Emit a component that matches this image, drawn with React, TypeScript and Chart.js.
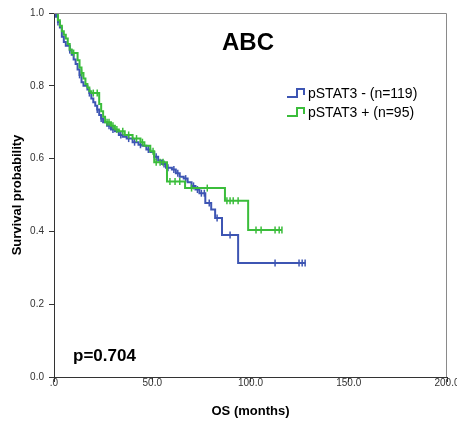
import React, { useEffect, useRef } from "react";
import { Chart, registerables } from "chart.js";
Chart.register(...registerables);

// ---- Data ----
const chartTitle = "ABC";
const pValueText = "p=0.704";
const seriesLabels = ["pSTAT3 - (n=119)", "pSTAT3 + (n=95)"];
const seriesColors = ["#3d55b3", "#3bbd3b"];

// pSTAT3 - : event times (months) and survival after each event
const negTimes = [0, 1, 2, 3, 4, 5, 6, 8, 9, 10, 11, 12, 13, 14, 15, 17, 18, 19, 20, 21, 22, 23, 24, 25, 27, 29, 31, 33, 35, 37, 40, 43, 45, 47, 49, 51, 53, 55, 57, 60, 62, 64, 66, 68, 70, 72, 74, 77, 80, 82, 85.5, 93.7, 128];
const negSurv = [1.0, 0.99, 0.975, 0.96, 0.935, 0.92, 0.91, 0.898, 0.885, 0.872, 0.86, 0.845, 0.83, 0.81, 0.8, 0.79, 0.78, 0.765, 0.755, 0.745, 0.735, 0.72, 0.71, 0.7, 0.69, 0.68, 0.675, 0.665, 0.66, 0.655, 0.645, 0.638, 0.635, 0.625, 0.618, 0.605, 0.595, 0.585, 0.575, 0.57, 0.56, 0.55, 0.545, 0.535, 0.525, 0.515, 0.505, 0.478, 0.46, 0.437, 0.39, 0.313, 0.313];
const negCensor = [2, 8, 13, 18, 22, 24, 28, 30, 34, 38, 41, 44, 48, 52, 56, 58, 61, 63, 67, 71, 73, 75, 76.5, 79, 83, 89.6, 112.5, 124.7, 126.3, 127.8];

// pSTAT3 + : event times (months) and survival after each event
const posTimes = [0, 2, 3, 4, 5, 6, 7, 8, 9, 12, 13, 14, 15, 16, 17, 18, 19, 23, 24, 25, 26, 29, 31, 33, 36, 40, 44, 46, 49, 51, 57.5, 66.7, 87, 98.8, 116];
const posSurv = [1.0, 0.98, 0.965, 0.95, 0.94, 0.93, 0.915, 0.9, 0.89, 0.87, 0.85, 0.835, 0.82, 0.805, 0.795, 0.785, 0.78, 0.75, 0.73, 0.715, 0.7, 0.69, 0.68, 0.675, 0.665, 0.655, 0.645, 0.635, 0.62, 0.59, 0.537, 0.519, 0.484, 0.404, 0.404];
const posCensor = [10, 14, 20, 22, 27, 28, 30, 32, 35, 38, 42, 45, 50.4, 52, 54, 55.5, 59, 61.6, 64, 70, 78, 88, 89.6, 91.2, 93.7, 102.8, 105.4, 112.5, 114.6, 116];

const xTickValues = [0, 50, 100, 150, 200];
const xTickLabels = [".0", "50.0", "100.0", "150.0", "200.0"];
const yTickValues = [0, 0.2, 0.4, 0.6, 0.8, 1.0];
const yTickLabels = ["0.0", "0.2", "0.4", "0.6", "0.8", "1.0"];
const xTitle = "OS (months)";
const yTitle = "Survival probability";

const FONT = '"Liberation Sans", Arial, Helvetica, sans-serif';

function survAt(times: number[], surv: number[], t: number) {
  let s = surv[0];
  for (let i = 0; i < times.length; i++) if (times[i] <= t) s = surv[i];
  return s;
}

const overlayPlugin = {
  id: "overlay",
  afterDraw(chart: any) {
    const { ctx, chartArea: a } = chart;
    ctx.save();
    // frame (top and right)
    ctx.strokeStyle = "#8a8a8a";
    ctx.lineWidth = 1;
    ctx.beginPath();
    ctx.moveTo(a.left, a.top + 0.5);
    ctx.lineTo(a.right - 0.5, a.top + 0.5);
    ctx.lineTo(a.right - 0.5, a.bottom);
    ctx.stroke();

    // title inside plot
    ctx.fillStyle = "#000";
    ctx.font = `bold 24px ${FONT}`;
    ctx.textAlign = "center";
    ctx.textBaseline = "middle";
    ctx.fillText(chartTitle, 248, 43);

    // p-value
    ctx.font = `bold 17px ${FONT}`;
    ctx.textAlign = "left";
    ctx.textBaseline = "alphabetic";
    ctx.fillText(pValueText, 73, 361);

    // legend
    const rows = [93, 112];
    seriesLabels.forEach((label, i) => {
      const cy = rows[i];
      const x0 = 287;
      ctx.strokeStyle = seriesColors[i];
      ctx.lineWidth = 2;
      ctx.beginPath();
      ctx.moveTo(x0, cy + 4);
      ctx.lineTo(x0 + 10, cy + 4);
      ctx.lineTo(x0 + 10, cy - 4);
      ctx.lineTo(x0 + 17, cy - 4);
      ctx.lineTo(x0 + 17, cy + 2);
      ctx.stroke();
      ctx.fillStyle = "#000";
      ctx.font = `14px ${FONT}`;
      ctx.textAlign = "left";
      ctx.textBaseline = "middle";
      ctx.fillText(label, x0 + 21, cy + 1);
    });
    ctx.restore();
  },
};

export default function App() {
  const ref = useRef<HTMLCanvasElement | null>(null);
  useEffect(() => {
    if (!ref.current) return;
    const lineData = (t: number[], s: number[]) => t.map((x, i) => ({ x, y: s[i] }));
    const censorData = (c: number[], t: number[], s: number[]) => c.map((x) => ({ x, y: survAt(t, s, x) }));
    const chart = new Chart(ref.current, {
      type: "line",
      data: {
        datasets: [
          {
            label: seriesLabels[0],
            data: lineData(negTimes, negSurv),
            stepped: true,
            borderColor: seriesColors[0],
            borderWidth: 2,
            pointRadius: 0,
            fill: false,
            order: 3,
          },
          {
            label: seriesLabels[0] + " censored",
            data: censorData(negCensor, negTimes, negSurv),
            showLine: false,
            pointStyle: "line",
            rotation: 90,
            pointRadius: 3.5,
            borderWidth: 1.5,
            borderColor: seriesColors[0],
            backgroundColor: seriesColors[0],
            order: 2,
          },
          {
            label: seriesLabels[1],
            data: lineData(posTimes, posSurv),
            stepped: true,
            borderColor: seriesColors[1],
            borderWidth: 2,
            pointRadius: 0,
            fill: false,
            order: 1,
          },
          {
            label: seriesLabels[1] + " censored",
            data: censorData(posCensor, posTimes, posSurv),
            showLine: false,
            pointStyle: "line",
            rotation: 90,
            pointRadius: 3.5,
            borderWidth: 1.5,
            borderColor: seriesColors[1],
            backgroundColor: seriesColors[1],
            order: 0,
          },
        ],
      },
      options: {
        responsive: false,
        animation: false,
        layout: { padding: { top: 13, right: 10, bottom: 0, left: 0 } },
        plugins: { legend: { display: false }, tooltip: { enabled: false }, title: { display: false } },
        scales: {
          x: {
            type: "linear",
            min: 0,
            max: 200,
            afterBuildTicks: (s: any) => {
              s.ticks = xTickValues.map((v) => ({ value: v }));
            },
            afterFit: (s: any) => {
              s.height = 48;
              s.paddingLeft = 0;
              s.paddingRight = 0;
            },
            ticks: {
              callback: (v: any) => xTickLabels[xTickValues.indexOf(Number(v))] ?? "",
              font: { family: FONT, size: 10 },
              color: "#333",
              padding: -5,
              maxRotation: 0,
            },
            grid: { drawOnChartArea: false, drawTicks: true, tickLength: 5, color: "#333" },
            border: { display: true, color: "#333", width: 1 },
            title: {
              display: true,
              text: xTitle,
              font: { family: FONT, size: 13, weight: "bold" },
              color: "#000",
              padding: { top: 0, bottom: 6 },
            },
          },
          y: {
            type: "linear",
            min: 0,
            max: 1,
            afterBuildTicks: (s: any) => {
              s.ticks = yTickValues.map((v) => ({ value: v }));
            },
            afterFit: (s: any) => {
              s.width = 54;
            },
            ticks: {
              callback: (v: any) => {
                const i = yTickValues.findIndex((t) => Math.abs(t - Number(v)) < 1e-6);
                return i >= 0 ? yTickLabels[i] : "";
              },
              font: { family: FONT, size: 10 },
              color: "#333",
              padding: 5,
            },
            grid: { drawOnChartArea: false, drawTicks: true, tickLength: 5, color: "#333" },
            border: { display: true, color: "#333", width: 1 },
            title: {
              display: true,
              text: yTitle,
              font: { family: FONT, size: 13, weight: "bold" },
              color: "#000",
              padding: { top: 10, bottom: 0 },
            },
          },
        },
      },
      plugins: [overlayPlugin],
    } as any);
    return () => chart.destroy();
  }, []);
  return (
    <div style={{ position: "absolute", left: 0, top: 0, width: 457, height: 425, background: "#fff" }}>
      <canvas ref={ref} width={457} height={425} style={{ width: 457, height: 425, display: "block" }} />
    </div>
  );
}
